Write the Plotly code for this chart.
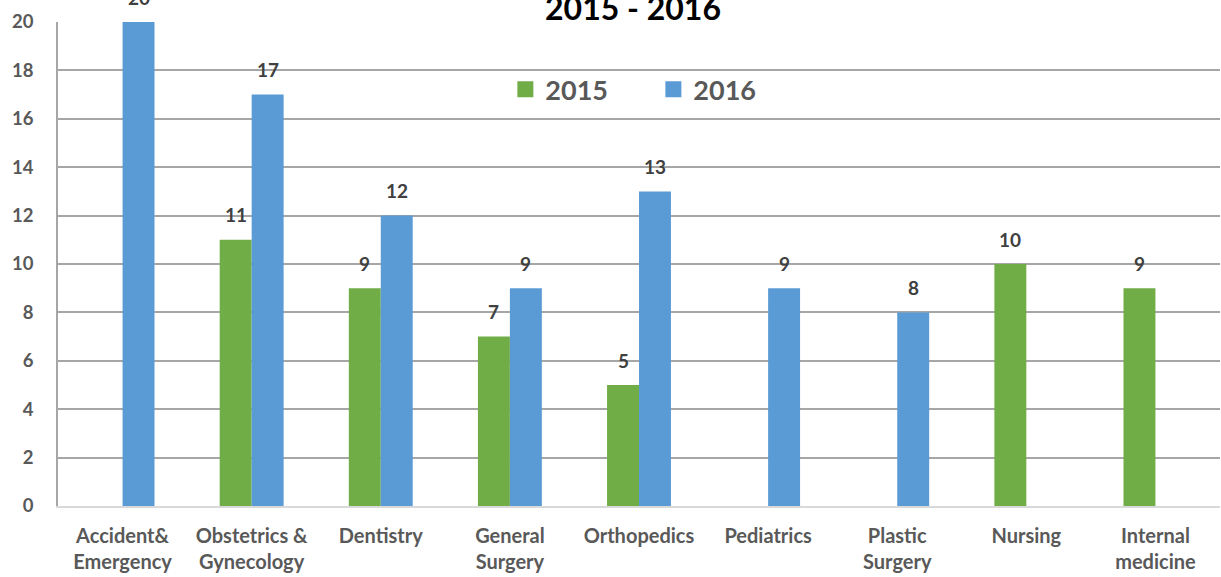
import plotly.graph_objects as go

categories = ["Accident&<br>Emergency", "Obstetrics &<br>Gynecology", "Dentistry", "General<br>Surgery",
              "Orthopedics", "Pediatrics", "Plastic<br>Surgery", "Nursing", "Internal<br>medicine"]
values_2015 = [None, 11, 9, 7, 5, None, None, 10, 9]
values_2016 = [20, 17, 12, 9, 13, 9, 8, None, None]
y_ticks = [0, 2, 4, 6, 8, 10, 12, 14, 16, 18, 20]

FONT = "Lato"
GREEN = "#70AD47"
BLUE = "#5B9BD5"
BARGAP = 0.505

fig = go.Figure()
series = [("2015", values_2015, GREEN, -1), ("2016", values_2016, BLUE, 1)]
for name, vals, col, side in series:
    fig.add_trace(go.Bar(
        x=categories, y=vals, name=name, marker=dict(color=col, line=dict(width=0)),
        showlegend=False,
    ))
    # legend entry with a larger square swatch
    fig.add_trace(go.Scatter(
        x=[None], y=[None], mode="markers", name=name,
        marker=dict(symbol="square", size=18, color=col),
    ))
    # data labels above bars
    offset = side * (1 - BARGAP) / 4
    for i, v in enumerate(vals):
        if v is None:
            continue
        fig.add_annotation(
            x=i + offset, y=v, text=f"<b>{v}</b>", showarrow=False,
            yanchor="middle", yshift=25,
            font=dict(family=FONT, size=19, color="#404040"),
        )

fig.update_layout(
    width=1221, height=577,
    margin=dict(l=58, r=1, t=22, b=71),
    paper_bgcolor="white", plot_bgcolor="white",
    barmode="group", bargap=BARGAP, bargroupgap=0,
    title=dict(text="<b>2015 - 2016</b>", x=633 / 1221, xanchor="center", xref="container",
               y=1 - 8.5 / 577, yanchor="middle", yref="container",
               font=dict(family=FONT, size=32, color="black")),
    legend=dict(orientation="h", x=0.385, xanchor="left", y=0.86, yanchor="middle",
                font=dict(family=FONT, size=27, color="#595959", weight="bold"),
                bgcolor="rgba(0,0,0,0)", itemsizing="trace", entrywidth=103),
)
fig.update_xaxes(
    showgrid=False, showline=True, linecolor="#D9D9D9", linewidth=2,
    tickfont=dict(family=FONT, size=20, color="#595959", weight="bold"),
    ticks="", ticklabelstandoff=11, automargin=False,
)
fig.update_yaxes(
    range=[0, 20], tickvals=y_ticks, showgrid=True, gridcolor="#A6A6A6", gridwidth=2,
    zeroline=False, showline=True, linecolor="#A6A6A6", linewidth=1.5,
    tickfont=dict(family=FONT, size=18.5, color="#595959", weight="bold"),
    ticks="", ticklabelstandoff=19, automargin=False,
)
fig.write_html("out.html", config={"displayModeBar": False},
               post_script="document.body.style.margin='0';")
